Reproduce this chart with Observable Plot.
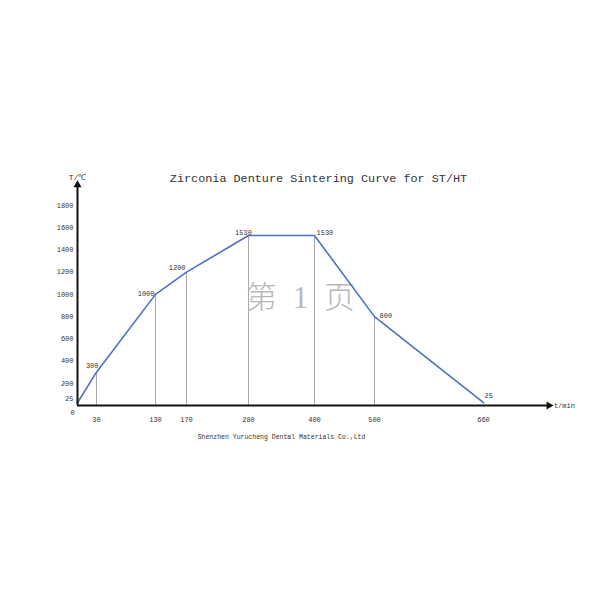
<!DOCTYPE html>
<html><head><meta charset="utf-8">
<script src="https://cdn.jsdelivr.net/npm/d3@7"></script>
<script src="https://cdn.jsdelivr.net/npm/@observablehq/plot@0.6"></script>
<style>body{margin:0;background:#fff}</style>
</head><body><div id="chart"></div>
<script>
// Data
const times = [0, 30, 130, 170, 280, 400, 500, 660];          // t/min
const temps = [25, 300, 1000, 1200, 1530, 1530, 800, 25];      // T/℃
const pointLabels = ["", "300", "1000", "1200", "1530", "1530", "800", "25"];
const xTicks = [30, 130, 170, 280, 400, 500, 660];
const yTicks = [200, 400, 600, 800, 1000, 1200, 1400, 1600, 1800];
const yTickLow = [25];
const title = "Zirconia Denture Sintering Curve for ST/HT";
const caption = "Shenzhen Yurucheng Dental Materials Co.,Ltd";
const xAxisLabel = "t/min";
const yAxisLabel = "T/℃";
const watermark = ["第", "1", "页"];

// Layout (styles / positions, not data)
const xDrawn = [77, 96, 155, 186, 248, 314, 374, 483];   // hand-drawn, uneven x spacing of the time axis
const xWarp = d3.scaleLinear().domain(times).range(xDrawn);
const xAxisEnd = 756, yAxisEnd = 1985;
const labelStyle = [
  null,
  {anchor: "end", dx: 2, dy: -6},
  {anchor: "end", dx: -1, dy: -1},
  {anchor: "end", dx: -1, dy: -4},
  {anchor: "middle", dx: -5, dy: -3},
  {anchor: "start", dx: 2, dy: -3},
  {anchor: "start", dx: 5, dy: -1},
  {anchor: "start", dx: 1, dy: -7}
];

const idx = d3.range(times.length);
const font = "Liberation Mono, DejaVu Sans Mono, monospace";

const labelMarks = idx.filter(i => pointLabels[i]).map(i =>
  Plot.text([i], {x: i => times[i], y: i => temps[i], text: i => pointLabels[i],
    textAnchor: labelStyle[i].anchor, dx: labelStyle[i].dx, dy: labelStyle[i].dy,
    fontSize: 7, fill: "#333"}));

const wmOffsets = [-39, 0, 39];
const wmFonts = ["Noto Sans CJK SC", "Liberation Serif", "Noto Sans CJK SC"];
const wmMarks = watermark.map((w, i) =>
  Plot.text([w], {frameAnchor: "middle", dx: wmOffsets[i], dy: -2, text: d => d,
    fontSize: 31, fill: "#b8b8b8", fontFamily: wmFonts[i], fontWeight: 300}));

const chart = Plot.plot({
  width: 600, height: 600, margin: 0,
  x: {type: "linear", transform: xWarp, domain: [0, 600], range: [0, 600], axis: null},
  y: {domain: [0, 1800], range: [405, 205], axis: null},
  style: {fontFamily: font, background: "white", overflow: "visible"},
  marks: [
    ...wmMarks,
    Plot.ruleX(idx.slice(1, 7), {x: i => times[i], y1: 0, y2: i => temps[i], stroke: "#aaaaaa", strokeWidth: 1}),
    Plot.line(idx, {x: i => times[i], y: i => temps[i], stroke: "#4a72c0", strokeWidth: 1.6}),
    Plot.ruleY([0], {x1: 0, x2: xAxisEnd, stroke: "#111", strokeWidth: 2}),
    Plot.ruleX([0], {y1: 0, y2: yAxisEnd, stroke: "#111", strokeWidth: 2}),
    Plot.dot([xAxisEnd], {x: d => d, y: 0, symbol: "triangle", rotate: 90, r: 3, fill: "#111", stroke: null}),
    Plot.dot([yAxisEnd], {x: 0, y: d => d, symbol: "triangle", r: 3, fill: "#111", stroke: null}),
    Plot.text(xTicks, {x: d => d, y: 0, dy: 14, text: d => String(d), fontSize: 7, fill: "#333"}),
    Plot.text(yTicks, {x: 0, y: d => d, dx: -4, text: d => String(d), textAnchor: "end", fontSize: 7, fill: "#333"}),
    Plot.text(yTickLow, {x: 0, y: d => d, dx: -4, dy: -4, text: d => String(d), textAnchor: "end", fontSize: 7, fill: "#333"}),
    Plot.text(["0"], {x: 0, y: 0, dx: -5, dy: 7, text: d => d, fontSize: 7, fill: "#333"}),
    Plot.text([yAxisLabel], {x: 0, y: yAxisEnd, dy: -8, text: d => d, fontSize: 8, fill: "#333"}),
    Plot.text([xAxisLabel], {x: xAxisEnd, y: 0, dx: 5, dy: 0, text: d => d, textAnchor: "start", fontSize: 7, fill: "#333"}),
    Plot.text([title], {frameAnchor: "top", lineAnchor: "middle", dx: 18, dy: 178, text: d => d, fontSize: 11.8, fill: "#333"}),
    Plot.text([caption], {frameAnchor: "top", lineAnchor: "middle", dx: -19, dy: 436, text: d => d, fontSize: 6.5, fill: "#333"}),
    ...labelMarks
  ]
});
document.getElementById("chart").append(chart);
</script>
</body></html>
